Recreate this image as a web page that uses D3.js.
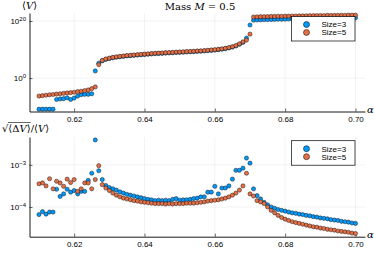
<!DOCTYPE html>
<html>
<head>
<meta charset="utf-8">
<script src="https://cdn.jsdelivr.net/npm/d3@7"></script>
<style>
  body { margin: 0; background: #fff; }
  svg { display: block; }
</style>
</head>
<body>
<div id="chart"></div>
<script>
// coupling values (x axis), shared by both panels
const alpha = [0.610,0.611,0.612,0.613,0.614,0.615,0.616,0.617,0.618,0.619,
  0.620,0.621,0.622,0.623,0.624,0.625,0.626,0.627,0.628,0.629,
  0.630,0.631,0.632,0.633,0.634,0.635,0.636,0.637,0.638,0.639,
  0.640,0.641,0.642,0.643,0.644,0.645,0.646,0.647,0.648,0.649,
  0.650,0.651,0.652,0.653,0.654,0.655,0.656,0.657,0.658,0.659,
  0.660,0.661,0.662,0.663,0.664,0.665,0.666,0.667,0.668,0.669,
  0.670,0.671,0.672,0.673,0.674,0.675,0.676,0.677,0.678,0.679,
  0.680,0.681,0.682,0.683,0.684,0.685,0.686,0.687,0.688,0.689,
  0.690,0.691,0.692,0.693,0.694,0.695,0.696,0.697,0.698,0.699,0.700];

// top panel: log10 <V>
const logV_size3 = [-10.9,-10.9,-10.9,-10.9,-10.9,-7.5,-7.3,-7.2,-6.9,-7.5,
  -7.0,-6.3,-5.8,-5.7,-5.7,-5.5,2.5,5.2,6.05,6.55,
  6.85,7.1,7.3,7.45,7.6,7.75,7.85,7.95,8.05,8.15,
  8.25,8.35,8.45,8.55,8.6,8.65,8.75,8.8,8.85,8.95,
  9.0,9.05,9.15,9.2,9.25,9.35,9.4,9.5,9.6,9.7,
  9.8,9.95,10.1,10.3,10.55,10.85,11.25,11.85,12.5,14.0,
  18.6,20.3,20.35,20.4,20.45,20.5,20.5,20.55,20.6,20.6,
  20.65,20.7,20.7,20.75,20.75,20.8,20.8,20.85,20.85,20.9,
  20.9,20.9,20.95,20.95,21.0,21.0,21.0,21.05,21.05,21.1,21.1];
const logV_size5 = [-6.3,-6.15,-6.0,-5.85,-5.75,-5.6,-5.5,-5.35,-5.2,-5.1,
  -4.95,-4.75,-4.6,-4.4,-4.15,-3.7,-3.1,4.7,6.2,6.7,
  7.0,7.25,7.45,7.6,7.75,7.9,8.0,8.1,8.2,8.3,
  8.4,8.5,8.6,8.7,8.75,8.8,8.9,8.95,9.0,9.1,
  9.15,9.2,9.3,9.35,9.4,9.5,9.55,9.65,9.75,9.85,
  9.95,10.1,10.25,10.45,10.7,11.0,11.4,12.0,12.7,13.3,
  15.4,21.4,21.45,21.5,21.5,21.55,21.6,21.6,21.65,21.65,
  21.7,21.7,21.75,21.75,21.8,21.8,21.8,21.85,21.85,21.9,
  21.9,21.9,21.95,21.95,21.95,22.0,22.0,22.0,22.05,22.05,22.05];

// bottom panel: log10 sqrt(<dV>)/<V>
const logR_size3 = [-4.18,-4.11,-4.17,-4.12,-4.12,-3.58,-3.75,-3.69,-3.58,-3.65,
  -3.61,-3.69,-3.63,-3.63,-3.37,-3.20,-2.41,-3.14,-3.35,-3.49,
  -3.54,-3.57,-3.60,-3.64,-3.67,-3.70,-3.72,-3.74,-3.76,-3.78,
  -3.80,-3.82,-3.83,-3.85,-3.84,-3.85,-3.84,-3.85,-3.82,-3.80,
  -3.84,-3.83,-3.83,-3.82,-3.80,-3.79,-3.76,-3.76,-3.65,-3.65,
  -3.51,-3.69,-3.55,-3.55,-3.50,-3.34,-3.13,-3.13,-3.08,-2.84,
  -2.96,-3.57,-3.73,-3.81,-3.89,-3.95,-4.00,-4.03,-4.06,-4.08,
  -4.10,-4.12,-4.14,-4.15,-4.17,-4.18,-4.20,-4.21,-4.23,-4.24,
  -4.26,-4.27,-4.28,-4.30,-4.31,-4.32,-4.34,-4.35,-4.36,-4.38,-4.39];
const logR_size5 = [-3.45,-3.43,-3.50,-3.33,-3.57,-3.39,-3.43,-3.51,-3.34,-3.42,
  -3.35,-3.63,-3.57,-3.43,-3.43,-3.57,-3.35,-3.02,-3.47,-3.55,
  -3.61,-3.67,-3.72,-3.76,-3.79,-3.81,-3.83,-3.85,-3.86,-3.88,
  -3.89,-3.90,-3.91,-3.92,-3.92,-3.92,-3.93,-3.92,-3.93,-3.92,
  -3.92,-3.92,-3.91,-3.91,-3.91,-3.90,-3.89,-3.88,-3.86,-3.85,
  -3.84,-3.83,-3.81,-3.79,-3.76,-3.72,-3.67,-3.60,-3.50,-3.20,
  -3.69,-3.74,-3.85,-3.88,-3.92,-4.00,-4.08,-4.14,-4.20,-4.25,
  -4.29,-4.32,-4.35,-4.37,-4.39,-4.41,-4.43,-4.45,-4.47,-4.48,
  -4.50,-4.51,-4.53,-4.54,-4.55,-4.57,-4.58,-4.59,-4.60,-4.62,-4.63];

const seriesNames = ["Size=3", "Size=5"];
const seriesColors = ["#009afa", "#e36f47"];
const xTicks = [0.62, 0.64, 0.66, 0.68, 0.70];
const topTicks = [0, 20];     // exponents
const bottomTicks = [-3, -4]; // exponents

const width = 374, height = 255;
const svg = d3.select("#chart").append("svg")
  .attr("width", width).attr("height", height)
  .style("font-family", "'Liberation Sans', Arial, sans-serif");

const x = d3.scaleLinear().domain([0.6073, 0.7027]).range([29.5, 365]);

const panels = [
  { top: 13, bottom: 111.5, dom: [-11.7, 22.8], ticks: topTicks, data: [logV_size3, logV_size5], legendY: 16.5 },
  { top: 137, bottom: 236.7, dom: [-4.705, -2.34], ticks: bottomTicks, data: [logR_size3, logR_size5], legendY: 140.7 }
];

const sup = e => (e < 0 ? "\u2212" + (-e) : "" + e);

panels.forEach(p => {
  const y = d3.scaleLog()
    .domain([10 ** p.dom[0], 10 ** p.dom[1]])
    .range([p.bottom, p.top]);

  // grid
  const grid = svg.append("g").attr("stroke", "#000").attr("stroke-opacity", 0.1).attr("stroke-width", 0.5);
  grid.selectAll(".gx").data(xTicks).join("line")
    .attr("x1", d => x(d)).attr("x2", d => x(d))
    .attr("y1", p.top).attr("y2", p.bottom);
  grid.selectAll(".gy").data(p.ticks).join("line")
    .attr("x1", x.range()[0]).attr("x2", x.range()[1])
    .attr("y1", d => y(10 ** d)).attr("y2", d => y(10 ** d));

  // axes
  const gx = svg.append("g")
    .attr("transform", `translate(0,${p.bottom})`)
    .call(d3.axisBottom(x).tickValues(xTicks).tickFormat(d3.format(".2f"))
      .tickSize(-3).tickSizeOuter(0).tickPadding(5));
  gx.selectAll("text").attr("font-size", 8).attr("fill", "#000").attr("font-family", null);

  const gy = svg.append("g")
    .attr("transform", `translate(${x.range()[0]},0)`)
    .call(d3.axisLeft(y).tickValues(p.ticks.map(e => 10 ** e)).tickFormat(() => "")
      .tickSize(-3).tickSizeOuter(0).tickPadding(3.5));
  gy.selectAll("text").each(function (d) {
    const t = d3.select(this).attr("font-size", 8).attr("fill", "#000").attr("font-family", null);
    t.append("tspan").text("10");
    t.append("tspan").attr("dy", "-0.45em").attr("font-size", 6).text(sup(Math.round(Math.log10(d))));
  });
  [gx, gy].forEach(g => {
    g.select(".domain").attr("stroke", "#000").attr("stroke-width", 0.9);
    g.selectAll(".tick line").attr("stroke", "#000").attr("stroke-width", 0.6);
  });

  // points: Size=3 first, Size=5 on top
  p.data.forEach((vals, k) => {
    svg.append("g").selectAll("circle")
      .data(alpha.map((a, i) => ({ a, v: 10 ** vals[i] })))
      .join("circle")
      .attr("cx", d => x(d.a))
      .attr("cy", d => y(d.v))
      .attr("r", 2.1)
      .attr("fill", seriesColors[k])
      .attr("stroke", "#000")
      .attr("stroke-opacity", 0.85)
      .attr("stroke-width", 0.5);
  });

  // alpha label
  svg.append("text")
    .attr("x", 367).attr("y", p.bottom + 1.5)
    .attr("font-family", "'DejaVu Serif', serif").attr("font-style", "italic")
    .attr("font-size", 10).text("\u03b1");

  // legend
  const lg = svg.append("g").attr("transform", `translate(291.5,${p.legendY})`);
  lg.append("rect").attr("width", 63.5).attr("height", 24.5)
    .attr("fill", "#fff").attr("stroke", "#000").attr("stroke-width", 0.7);
  seriesNames.forEach((name, k) => {
    const row = lg.append("g").attr("transform", `translate(0,${8 + k * 8})`);
    row.append("circle").attr("cx", 15).attr("cy", 0).attr("r", 3)
      .attr("fill", seriesColors[k]).attr("stroke", "#000").attr("stroke-width", 0.5);
    row.append("text").attr("x", 30).attr("dy", "0.35em").attr("font-size", 8).text(name);
  });
});

// title
const title = svg.append("text")
  .attr("x", 200).attr("y", 10).attr("text-anchor", "middle")
  .attr("font-family", "'DejaVu Serif', serif").attr("font-size", 10);
title.append("tspan").text("Mass ");
title.append("tspan").attr("font-style", "italic").text("M");
title.append("tspan").text(" = 0.5");

// y labels
const yl1 = svg.append("text")
  .attr("x", 22).attr("y", 9)
  .attr("font-family", "'DejaVu Serif', serif").attr("font-size", 10);
yl1.append("tspan").text("\u27e8");
yl1.append("tspan").attr("font-style", "italic").text("V");
yl1.append("tspan").text("\u27e9");

const yl2 = svg.append("text")
  .attr("x", 2).attr("y", 132)
  .attr("font-family", "'DejaVu Serif', serif").attr("font-size", 10);
yl2.append("tspan").text("\u221a\u27e8\u0394");
yl2.append("tspan").attr("font-style", "italic").text("V");
yl2.append("tspan").text("\u27e9/\u27e8");
yl2.append("tspan").attr("font-style", "italic").text("V");
yl2.append("tspan").text("\u27e9");
// overline of the square root over <dV>
const node = yl2.node();
svg.append("line")
  .attr("x1", node.getEndPositionOfChar(0).x - 0.5).attr("x2", node.getEndPositionOfChar(4).x)
  .attr("y1", 122.5).attr("y2", 122.5)
  .attr("stroke", "#000").attr("stroke-width", 0.6);
</script>
</body>
</html>
